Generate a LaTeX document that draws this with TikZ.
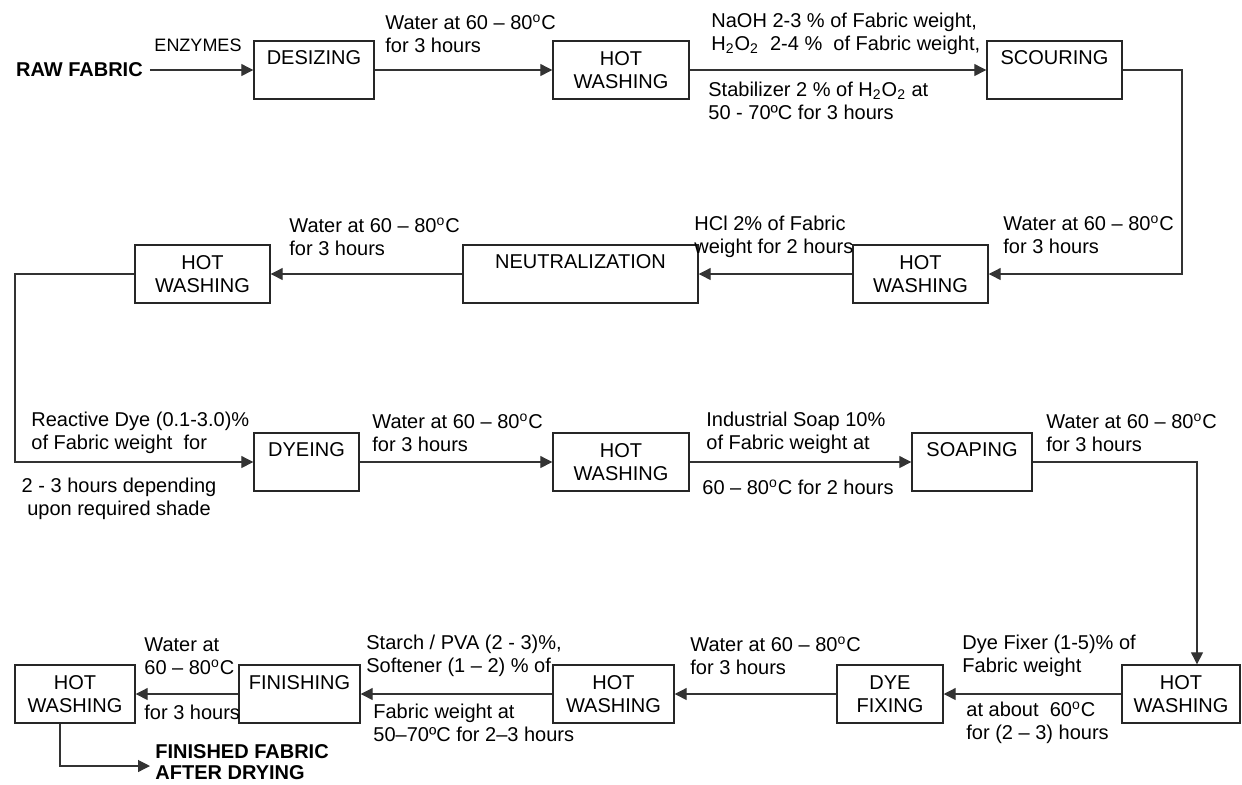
\documentclass[tikz,border=0pt]{standalone}
\usepackage{fontspec}
\setmainfont{Liberation Sans}
\usetikzlibrary{arrows.meta}

\tikzset{
	stage/.style={draw=black!85, line width=0.7pt, minimum height=29pt, inner sep=2pt, align=center},
	onerow/.style={text depth=12pt},
	lbl/.style={inner sep=0pt, align=left, anchor=west},
	flow/.style={draw=black!80, line width=0.6pt, -{Triangle[length=6pt,width=6pt]}}
}
\newcommand{\hotwater}{Water at 60 – 80\textsuperscript{o}C\\for 3 hours}

\begin{document}
\begin{tikzpicture}[x=0.5pt, y=-0.5pt, font=\fontsize{10}{11.5}\selectfont]
	\useasboundingbox (0,0) rectangle (1242,784);
	
	% Row 1: desizing and scouring
	\node[font=\bfseries\fontsize{10}{11.5}\selectfont, anchor=west] (raw) at (9,70) {RAW FABRIC};
	\node[font=\fontsize{9}{10}\selectfont] (enz) at (198,45) {ENZYMES};
	\node[stage, onerow, minimum width=60pt] (desz) at (314,70) {DESIZING};
	\node[stage, minimum width=68pt] (hw1) at (621,70) {HOT\\WASHING};
	\node[stage, onerow, minimum width=67.5pt] (scour) at (1054.5,70) {SCOURING};
	
	\node[lbl] (w1) at (385,33.5) {\hotwater};
	\node[lbl] (naoh) at (711,33.5) {NaOH 2-3 \% of Fabric weight,\\H\textsubscript{2}O\textsubscript{2}\ \ 2-4 \%\ \ of Fabric weight,};
	\node[lbl] (stab) at (708,101) {Stabilizer 2 \% of H\textsubscript{2}O\textsubscript{2} at\\50 - 70ºC for 3 hours};
	
	% Row 2: right to left
	\node[stage, minimum width=67.5pt] (hw2) at (920.5,274) {HOT\\WASHING};
	\node[stage, onerow, minimum width=117.5pt] (neut) at (580.5,274) {NEUTRALIZATION};
	\node[stage, minimum width=67.5pt] (hw3) at (202.5,274) {HOT\\WASHING};
	
	\node[lbl] (w2) at (1003,235) {\hotwater};
	\node[lbl] (hcl) at (694,236.5) {HCl 2\% of Fabric\\weight for 2 hours};
	\node[lbl] (w3) at (289,236.5) {\hotwater};
	
	% Row 3: dyeing and soaping
	\node[stage, onerow, minimum width=52.5pt] (dye) at (306.5,462) {DYEING};
	\node[stage, minimum width=68pt] (hw4) at (621,462) {HOT\\WASHING};
	\node[stage, onerow, minimum width=60pt] (soap) at (972,462) {SOAPING};
	
	\node[lbl] (react) at (31,432.5) {Reactive Dye (0.1-3.0)\%\\of Fabric weight\ \ for};
	\node[align=center, inner sep=0pt] (shade) at (119,498.5) {2 - 3 hours depending\\upon required shade};
	\node[lbl] (w4) at (372,432.5) {\hotwater};
	\node[lbl] (isoap) at (706,432.5) {Industrial Soap 10\%\\of Fabric weight at};
	\node[lbl] (isoap2) at (702,487) {60 – 80\textsuperscript{o}C for 2 hours};
	\node[lbl] (w5) at (1046,432.5) {\hotwater};
	
	% Row 4: fixing and finishing
	\node[stage, minimum width=59pt] (hw5) at (1181,694) {HOT\\WASHING};
	\node[stage, minimum width=53pt] (fix) at (890,694) {DYE\\FIXING};
	\node[stage, minimum width=60.5pt] (hw6) at (613.5,694) {HOT\\WASHING};
	\node[stage, onerow, minimum width=60.5pt] (finish) at (299.5,694) {FINISHING};
	\node[stage, minimum width=60pt] (hw7) at (75,694) {HOT\\WASHING};
	
	\node[lbl] (fixer) at (962,656) {Dye Fixer (1-5)\% of\\Fabric weight};
	\node[lbl] (about) at (966,722.5) {at about\ \ 60\textsuperscript{o}C\\for (2 – 3) hours};
	\node[lbl] (w6) at (690,656) {\hotwater};
	\node[lbl] (starch) at (366,656) {Starch / PVA (2 - 3)\%,\\Softener (1 – 2) \% of};
	\node[lbl] (fabwt) at (373,722.5) {Fabric weight at\\50–70ºC for 2–3 hours};
	\node[lbl] (w7) at (144,656) {Water at\\60 – 80\textsuperscript{o}C};
	\node[lbl] (w7b) at (144,712) {for 3 hours};
	\node[lbl, font=\bfseries\fontsize{10}{10.5}\selectfont] (done) at (155,762) {FINISHED FABRIC\\AFTER DRYING};
	
	% Turning points
	\coordinate (c1) at (1182,70);
	\coordinate (c2) at (15,274);
	\coordinate (c3) at (1197,462);
	\coordinate (c4) at (60,766);
	
	% Flow
	\draw[flow] (raw) -- (desz);
	\draw[flow] (desz) -- (hw1);
	\draw[flow] (hw1) -- (scour);
	\draw[flow] (scour) -- (c1) |- (hw2);
	\draw[flow] (hw2) -- (neut);
	\draw[flow] (neut) -- (hw3);
	\draw[flow] (hw3) -- (c2) |- (dye);
	\draw[flow] (dye) -- (hw4);
	\draw[flow] (hw4) -- (soap);
	\draw[flow] (soap) -- (c3) -- (c3 |- hw5.north);
	\draw[flow] (hw5) -- (fix);
	\draw[flow] (fix) -- (hw6);
	\draw[flow] (hw6) -- (finish);
	\draw[flow] (finish) -- (hw7);
	\draw[flow] (c4 |- hw7.south) -- (c4) -- ([xshift=-2.5pt]c4 -| done.west);
	
\end{tikzpicture}
\end{document}
